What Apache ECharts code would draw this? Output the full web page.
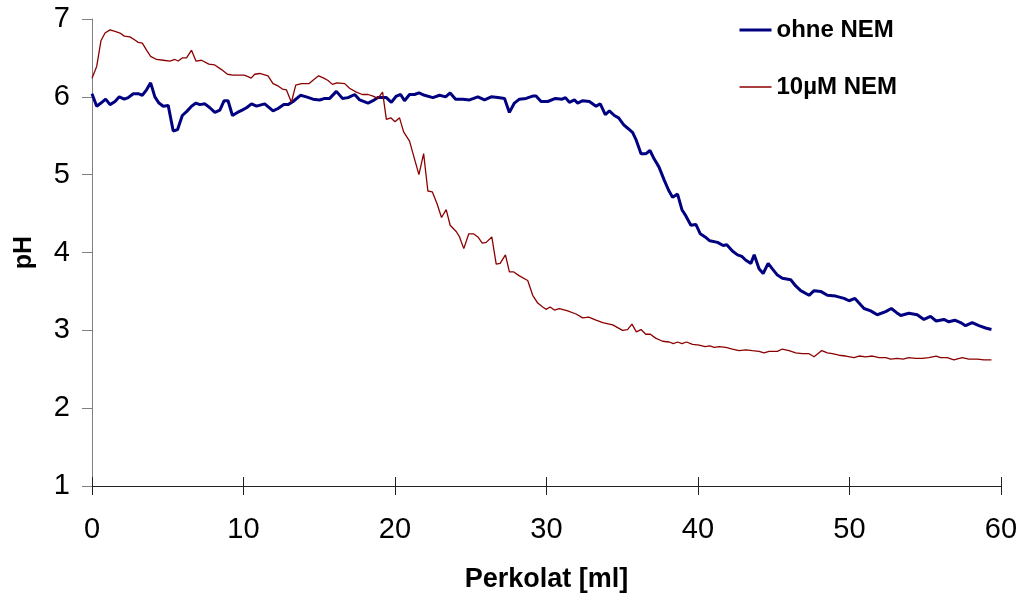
<!DOCTYPE html>
<html>
<head>
<meta charset="utf-8">
<script src="https://cdn.jsdelivr.net/npm/echarts@6/dist/echarts.min.js"></script>
<style>html,body{margin:0;padding:0;background:#fff}#c{width:1023px;height:600px}</style>
</head>
<body>
<div id="c"></div>
<script>
var seriesNames = ['ohne NEM', '10µM NEM'];
var ohneNEM = [[0,6.04],[0.31,5.88],[0.59,5.92],[0.9,5.97],[1.19,5.90],[1.52,5.94],[1.8,6.0],[2.13,5.97],[2.39,5.99],[2.72,6.04],[3.05,6.04],[3.32,6.02],[3.6,6.09],[3.87,6.18],[4.15,6.0],[4.42,5.92],[4.7,5.88],[5.03,5.89],[5.36,5.56],[5.65,5.58],[5.96,5.76],[6.24,5.81],[6.57,5.88],[6.86,5.92],[7.12,5.90],[7.45,5.91],[7.78,5.86],[8.11,5.80],[8.44,5.83],[8.72,5.95],[8.98,5.95],[9.27,5.76],[9.6,5.80],[9.91,5.83],[10.2,5.86],[10.53,5.91],[10.86,5.88],[11.4,5.91],[11.95,5.82],[12.28,5.85],[12.66,5.90],[12.94,5.90],[13.27,5.94],[13.76,6.02],[14.15,6.0],[14.59,5.97],[15.03,5.96],[15.36,5.98],[15.69,5.98],[16.13,6.07],[16.53,5.98],[16.9,5.99],[17.34,6.03],[17.67,5.96],[18.22,5.92],[18.55,5.95],[18.87,5.99],[19.43,5.99],[19.76,5.93],[20.09,6.01],[20.37,6.03],[20.63,5.95],[20.96,6.03],[21.29,6.03],[21.58,6.05],[21.95,6.02],[22.5,5.99],[22.94,6.02],[23.34,6.0],[23.64,6.05],[24.0,5.97],[24.48,5.97],[24.92,5.96],[25.47,6.0],[25.91,5.96],[26.35,6.0],[26.79,5.99],[27.23,5.98],[27.55,5.80],[27.88,5.92],[28.21,5.97],[28.65,5.98],[29.09,6.01],[29.31,6.01],[29.64,5.94],[30.08,5.94],[30.59,5.98],[31.03,5.97],[31.25,5.99],[31.51,5.93],[31.84,5.96],[32.06,5.92],[32.39,5.95],[32.83,5.94],[33.27,5.88],[33.55,5.91],[33.88,5.77],[34.15,5.82],[34.48,5.76],[34.76,5.73],[35.1,5.64],[35.4,5.59],[35.69,5.54],[35.93,5.44],[36.24,5.27],[36.57,5.27],[36.83,5.31],[37.11,5.20],[37.42,5.10],[37.77,4.93],[38.06,4.80],[38.32,4.71],[38.65,4.75],[38.94,4.55],[39.2,4.47],[39.53,4.35],[39.86,4.36],[40.15,4.24],[40.47,4.20],[40.78,4.15],[41.29,4.13],[41.66,4.09],[41.9,4.10],[42.27,4.02],[42.61,3.97],[42.89,3.95],[43.16,3.90],[43.49,3.86],[43.71,3.97],[44.03,3.79],[44.3,3.73],[44.63,3.86],[44.91,3.79],[45.24,3.71],[45.57,3.67],[46.12,3.65],[46.45,3.57],[46.78,3.51],[47.33,3.45],[47.66,3.51],[48.1,3.50],[48.54,3.45],[49.09,3.44],[49.64,3.41],[49.97,3.38],[50.36,3.41],[50.96,3.28],[51.4,3.25],[51.83,3.20],[52.39,3.24],[52.76,3.28],[53.09,3.23],[53.38,3.19],[53.92,3.22],[54.47,3.20],[54.91,3.14],[55.35,3.18],[55.72,3.12],[56.23,3.14],[56.56,3.11],[56.95,3.13],[57.33,3.10],[57.66,3.06],[58.1,3.10],[58.54,3.06],[58.98,3.03],[59.37,3.01]];
var nem10 = [[0,6.24],[0.31,6.39],[0.59,6.72],[0.86,6.82],[1.19,6.86],[1.52,6.84],[1.85,6.82],[2.13,6.78],[2.5,6.77],[2.83,6.73],[3.05,6.70],[3.32,6.69],[3.6,6.60],[3.87,6.52],[4.26,6.48],[4.7,6.47],[5.14,6.46],[5.47,6.48],[5.69,6.46],[5.96,6.50],[6.24,6.50],[6.57,6.60],[6.86,6.46],[7.23,6.47],[7.71,6.42],[8.1,6.41],[8.55,6.35],[8.94,6.29],[9.31,6.28],[9.65,6.28],[10.04,6.28],[10.3,6.26],[10.5,6.24],[10.74,6.29],[11.07,6.30],[11.62,6.27],[11.95,6.17],[12.28,6.14],[12.57,6.10],[12.83,6.09],[13.16,5.93],[13.45,6.15],[13.82,6.17],[14.33,6.17],[14.63,6.22],[14.96,6.27],[15.3,6.24],[15.58,6.21],[15.87,6.16],[16.17,6.18],[16.68,6.17],[17.0,6.11],[17.45,6.06],[17.84,6.03],[18.22,6.03],[18.55,6.01],[18.87,5.98],[19.18,6.06],[19.43,5.71],[19.72,5.73],[20.0,5.68],[20.3,5.73],[20.57,5.55],[20.96,5.43],[21.29,5.20],[21.58,5.0],[21.89,5.27],[22.17,4.79],[22.46,4.78],[22.77,4.63],[23.07,4.45],[23.38,4.55],[23.64,4.35],[24.04,4.27],[24.26,4.20],[24.54,4.05],[24.87,4.24],[25.18,4.24],[25.47,4.20],[25.76,4.12],[26.02,4.13],[26.39,4.20],[26.68,3.85],[26.94,3.86],[27.29,3.97],[27.55,3.75],[27.84,3.75],[28.21,3.70],[28.76,3.64],[29.09,3.45],[29.42,3.35],[29.75,3.30],[29.97,3.27],[30.24,3.30],[30.52,3.26],[30.85,3.28],[31.4,3.25],[31.95,3.21],[32.39,3.16],[32.78,3.17],[33.27,3.13],[33.71,3.10],[34.37,3.07],[35.02,3.0],[35.35,3.01],[35.64,3.08],[35.93,2.98],[36.24,3.01],[36.55,2.95],[36.86,2.95],[37.2,2.90],[37.66,2.86],[38.1,2.85],[38.37,2.83],[38.65,2.85],[38.94,2.83],[39.24,2.85],[39.64,2.82],[40.08,2.81],[40.47,2.79],[40.78,2.80],[41.07,2.78],[41.4,2.79],[41.84,2.78],[42.27,2.76],[42.72,2.74],[43.16,2.75],[43.59,2.74],[44.03,2.73],[44.36,2.71],[44.69,2.73],[45.24,2.73],[45.57,2.76],[46.01,2.74],[46.45,2.71],[46.89,2.70],[47.33,2.70],[47.66,2.66],[48.17,2.74],[48.54,2.71],[48.87,2.70],[49.31,2.68],[49.75,2.67],[50.3,2.65],[50.63,2.67],[51.07,2.66],[51.51,2.67],[51.95,2.65],[52.39,2.65],[52.72,2.63],[53.15,2.64],[53.53,2.63],[53.92,2.65],[54.36,2.64],[54.8,2.64],[55.24,2.65],[55.72,2.67],[56.01,2.65],[56.45,2.65],[56.89,2.62],[57.44,2.65],[57.88,2.63],[58.43,2.63],[58.87,2.62],[59.37,2.62]];
var xMin = 0, xMax = 60, xStep = 10;
var yMin = 1, yMax = 7, yStep = 1;
var xTitle = 'Perkolat [ml]';
var yTitle = 'pH';

var FONT = '"Liberation Sans", Arial, sans-serif';
var chart = echarts.init(document.getElementById('c'), null, {renderer: 'canvas'});
chart.setOption({
  animation: false,
  backgroundColor: '#ffffff',
  grid: {left: 92, right: 22, top: 19, bottom: 114},
  legend: {
    orient: 'vertical', left: 733, top: 13, itemGap: 33,
    itemWidth: 32, itemHeight: 14,
    textStyle: {fontFamily: FONT, fontSize: 24, fontWeight: 'bold', color: '#000'},
    data: [
      {name: seriesNames[0], lineStyle: {width: 3, color: '#000080'}, itemStyle: {opacity: 0}},
      {name: seriesNames[1], lineStyle: {width: 1.3, color: '#8B0000'}, itemStyle: {opacity: 0}}
    ]
  },
  xAxis: [{
    type: 'value', min: xMin, max: xMax, interval: xStep,
    name: xTitle, nameLocation: 'middle', nameGap: 80,
    nameTextStyle: {fontFamily: FONT, fontSize: 27, fontWeight: 'bold', color: '#000'},
    axisLine: {onZero: false, lineStyle: {color: '#222', width: 1}},
    axisTick: {length: 9, lineStyle: {color: '#222'}},
    axisLabel: {fontFamily: FONT, fontSize: 29, color: '#000', margin: 29},
    splitLine: {show: false}
  }, {
    type: 'value', min: xMin, max: xMax, interval: xStep, position: 'bottom',
    axisLine: {show: false},
    axisTick: {inside: true, length: 9, lineStyle: {color: '#222'}},
    axisLabel: {show: false},
    splitLine: {show: false}
  }],
  yAxis: {
    type: 'value', min: yMin, max: yMax, interval: yStep,
    name: yTitle, nameLocation: 'middle', nameGap: 55,
    nameTextStyle: {fontFamily: FONT, fontSize: 25, fontWeight: 'bold', color: '#000'},
    axisLine: {show: true, lineStyle: {color: '#808080', width: 1}},
    axisTick: {show: true, length: 10, lineStyle: {color: '#808080'}},
    axisLabel: {fontFamily: FONT, fontSize: 29, color: '#000', margin: 22},
    splitLine: {show: false}
  },
  series: [{
    name: seriesNames[0], type: 'line', data: ohneNEM, symbol: 'none',
    lineStyle: {width: 3, color: '#000080'}, itemStyle: {color: '#000080'}
  }, {
    name: seriesNames[1], type: 'line', data: nem10, symbol: 'none',
    lineStyle: {width: 1.3, color: '#8B0000'}, itemStyle: {color: '#8B0000'}
  }]
});
</script>
</body>
</html>
